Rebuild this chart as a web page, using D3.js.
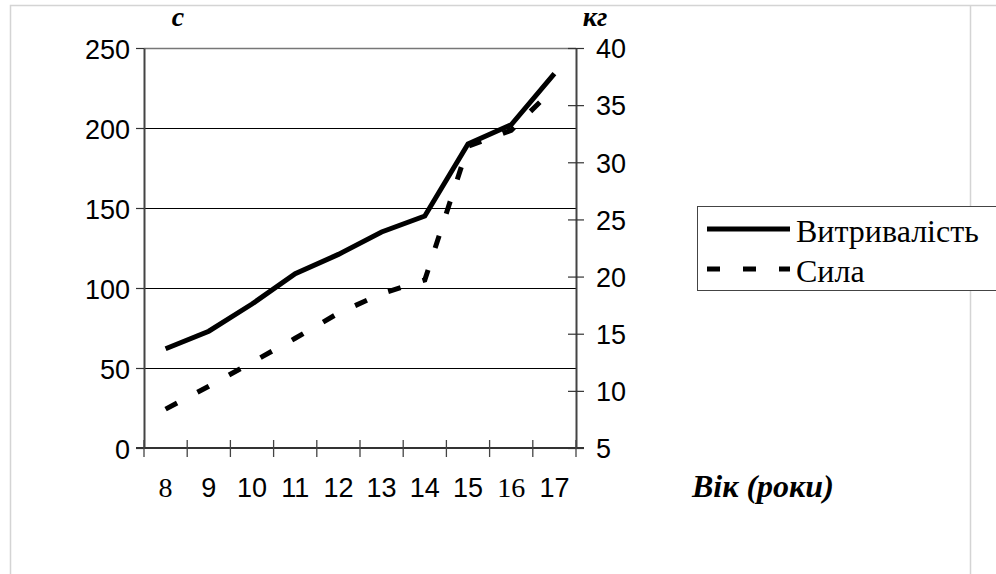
<!DOCTYPE html>
<html>
<head>
<meta charset="utf-8">
<script src="https://cdn.jsdelivr.net/npm/d3@7"></script>
<style>
  html, body { margin: 0; padding: 0; background: #fff; }
  svg { display: block; }
</style>
</head>
<body>
<svg id="chart" width="996" height="574"></svg>
<script>
// Age groups (years)
const ages = ["8", "9", "10", "11", "12", "13", "14", "15", "16", "17"];
// Endurance, seconds (left axis)
const endurance = [62, 73, 90, 109, 121, 135, 145, 190, 202, 234];
// Strength, kg (right axis)
const strength = [8.4, 10.4, 12.5, 14.6, 16.8, 18.5, 19.7, 31.4, 32.8, 36.5];
// Axis ticks
const leftTicks = [0, 50, 100, 150, 200, 250];
const rightTicks = [5, 10, 15, 20, 25, 30, 35, 40];
// Series names
const seriesNames = ["Витривалість", "Сила"];

const SANS = '"Liberation Sans"';
const SERIF = '"Liberation Serif"';

const svg = d3.select("#chart");

// Outer frame
svg.append("path")
  .attr("d", "M10.5,574 V5.5 H996 M970.5,5.5 V574")
  .attr("fill", "none").attr("stroke", "#d4d4d4").attr("stroke-width", 1.5);

const plot = { left: 144, right: 576, top: 48, bottom: 448 };

const x = d3.scaleBand().domain(ages).range([plot.left, plot.right]).padding(0);
const yL = d3.scaleLinear().domain([0, 250]).range([plot.bottom, plot.top]);
const yR = d3.scaleLinear().domain([5, 40]).range([plot.bottom, plot.top]);
const cx = d => x(d) + x.bandwidth() / 2;

// Horizontal gridlines on the left scale
svg.append("g").selectAll("line").data(leftTicks.filter(t => t > 0)).join("line")
  .attr("x1", plot.left).attr("x2", plot.right)
  .attr("y1", d => Math.round(yL(d)) + 0.5).attr("y2", d => Math.round(yL(d)) + 0.5)
  .attr("stroke", d => d === 250 ? "#777" : "#000").attr("stroke-width", d => d === 250 ? 1.5 : 1.2);

// Left axis
const gL = svg.append("g").attr("transform", `translate(${plot.left},0)`)
  .call(d3.axisLeft(yL).tickValues(leftTicks).tickSize(8).tickPadding(6).tickSizeOuter(0));
gL.select(".domain").attr("stroke", "#444").attr("stroke-width", 2);
gL.selectAll(".tick line").attr("stroke", "#333").attr("stroke-width", 1.2);
gL.selectAll(".tick text").style("font-family", SANS).style("font-size", "27px")
  .attr("fill", "#000").attr("dy", "0.4em");

// Right axis, ticks cross the line
const gR = svg.append("g").attr("transform", `translate(${plot.right},0)`)
  .call(d3.axisRight(yR).tickValues(rightTicks).tickSize(8).tickPadding(12).tickSizeOuter(0));
gR.select(".domain").attr("stroke", "#444").attr("stroke-width", 2);
gR.selectAll(".tick line").attr("x1", -8).attr("stroke", "#333").attr("stroke-width", 1.2);
gR.selectAll(".tick text").style("font-family", SANS).style("font-size", "27px")
  .attr("fill", "#000").attr("dy", "0.36em");

// Bottom axis: line, boundary ticks, centred labels
const gX = svg.append("g");
gX.append("line")
  .attr("x1", plot.left - 8).attr("x2", plot.right + 8)
  .attr("y1", plot.bottom).attr("y2", plot.bottom)
  .attr("stroke", "#333").attr("stroke-width", 2);
const edges = ages.map(d => x(d)).concat([x.range()[1]]);
gX.selectAll("line.tick").data(edges).join("line").attr("class", "tick")
  .attr("x1", d => d).attr("x2", d => d)
  .attr("y1", plot.bottom - 8).attr("y2", plot.bottom + 9)
  .attr("stroke", "#444").attr("stroke-width", 1.3);
const serifLabels = new Set(["8", "16"]);
gX.selectAll("text").data(ages).join("text")
  .attr("x", d => cx(d)).attr("y", 497)
  .attr("text-anchor", "middle")
  .style("font-family", d => serifLabels.has(d) ? SERIF : SANS)
  .style("font-size", d => serifLabels.has(d) ? "28px" : "27px")
  .text(d => d);

// Series lines
const lineL = d3.line().x((d, i) => cx(ages[i])).y(d => yL(d));
const lineR = d3.line().x((d, i) => cx(ages[i])).y(d => yR(d));

svg.append("path").datum(strength)
  .attr("d", lineR).attr("fill", "none").attr("stroke", "#000")
  .attr("stroke-width", 5).attr("stroke-dasharray", "13,23");

svg.append("path").datum(endurance)
  .attr("d", lineL).attr("fill", "none").attr("stroke", "#000")
  .attr("stroke-width", 5).attr("stroke-linejoin", "miter");

// Axis titles
const titleStyle = (sel, size) => sel.style("font-family", SERIF).style("font-weight", "bold")
  .style("font-style", "italic").style("font-size", size + "px").attr("fill", "#000");
svg.append("text").attr("x", 178).attr("y", 26).attr("text-anchor", "middle")
  .call(titleStyle, 28).text("с");
svg.append("text").attr("x", 595).attr("y", 26).attr("text-anchor", "middle")
  .call(titleStyle, 28).text("кг");
svg.append("text").attr("x", 692).attr("y", 497)
  .call(titleStyle, 32).text("Вік (роки)");

// Legend
const lg = svg.append("g");
lg.append("rect").attr("x", 697.5).attr("y", 206.5).attr("width", 320).attr("height", 84)
  .attr("fill", "#fff").attr("stroke", "#444").attr("stroke-width", 1);
const legendRows = [
  { name: seriesNames[0], dash: null, y: 229 },
  { name: seriesNames[1], dash: "13,23", y: 269 }
];
legendRows.forEach(r => {
  lg.append("line").attr("x1", 707).attr("x2", 790).attr("y1", r.y).attr("y2", r.y)
    .attr("stroke", "#000").attr("stroke-width", 5)
    .attr("stroke-dasharray", r.dash);
  lg.append("text").attr("x", 796).attr("y", r.y + 13)
    .style("font-family", SERIF).style("font-size", "32px").attr("fill", "#000")
    .text(r.name);
});
</script>
</body>
</html>
